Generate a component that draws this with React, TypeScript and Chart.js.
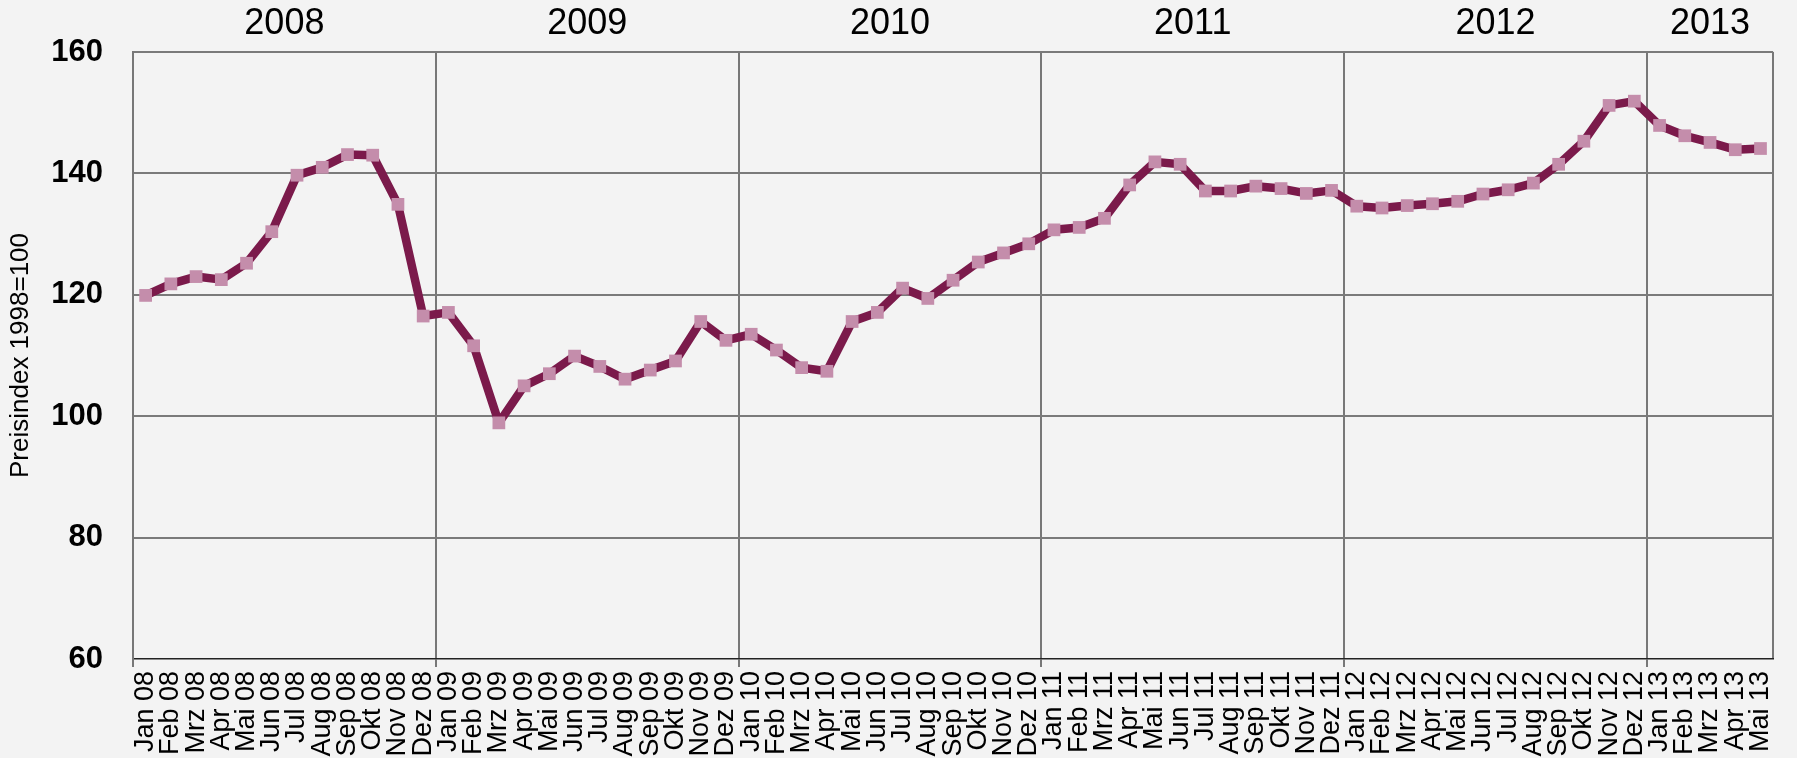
import React, { useEffect, useRef } from "react";
import { Chart, registerables } from "chart.js";

Chart.register(...registerables);

const monthLabels = [
  "Jan 08", "Feb 08", "Mrz 08", "Apr 08", "Mai 08", "Jun 08", "Jul 08", "Aug 08", "Sep 08", "Okt 08", "Nov 08", "Dez 08",
  "Jan 09", "Feb 09", "Mrz 09", "Apr 09", "Mai 09", "Jun 09", "Jul 09", "Aug 09", "Sep 09", "Okt 09", "Nov 09", "Dez 09",
  "Jan 10", "Feb 10", "Mrz 10", "Apr 10", "Mai 10", "Jun 10", "Jul 10", "Aug 10", "Sep 10", "Okt 10", "Nov 10", "Dez 10",
  "Jan 11", "Feb 11", "Mrz 11", "Apr 11", "Mai 11", "Jun 11", "Jul 11", "Aug 11", "Sep 11", "Okt 11", "Nov 11", "Dez 11",
  "Jan 12", "Feb 12", "Mrz 12", "Apr 12", "Mai 12", "Jun 12", "Jul 12", "Aug 12", "Sep 12", "Okt 12", "Nov 12", "Dez 12",
  "Jan 13", "Feb 13", "Mrz 13", "Apr 13", "Mai 13",
];

const priceIndex = [
  119.9, 121.8, 123.0, 122.5, 125.2, 130.4, 139.7, 141.0, 143.1, 143.0, 134.9, 116.5,
  117.1, 111.6, 98.9, 105.0, 107.0, 109.9, 108.2, 106.1, 107.6, 109.1, 115.6, 112.5,
  113.5, 110.9, 108.0, 107.4, 115.6, 117.1, 121.1, 119.4, 122.4, 125.4, 126.9, 128.4,
  130.7, 131.1, 132.6, 138.1, 141.9, 141.5, 137.1, 137.1, 137.9, 137.5, 136.7, 137.2,
  134.6, 134.3, 134.7, 135.0, 135.4, 136.6, 137.3, 138.4, 141.5, 145.3, 151.2, 151.9,
  147.9, 146.2, 145.1, 143.9, 144.1,
];

const yearLabels = ["2008", "2009", "2010", "2011", "2012", "2013"];

const yTitle = "Preisindex 1998=100";
const yMin = 60;
const yMax = 160;
const yStep = 20;

const FONT = "'Liberation Sans', Arial, sans-serif";

const bgPlugin = {
  id: "bgFill",
  beforeDraw(chart: any) {
    const ctx = chart.ctx;
    ctx.save();
    ctx.fillStyle = "#f3f3f3";
    ctx.fillRect(0, 0, chart.width, chart.height);
    ctx.restore();
  },
};

const yearPlugin = {
  id: "yearLabels",
  afterDraw(chart: any) {
    const ctx = chart.ctx;
    const xs = chart.scales.x;
    const half = (xs.getPixelForValue(1) - xs.getPixelForValue(0)) / 2;
    ctx.save();
    ctx.fillStyle = "#000";
    ctx.font = `36px ${FONT}`;
    ctx.textAlign = "center";
    ctx.textBaseline = "middle";
    yearLabels.forEach((yr) => {
      const suffix = yr.slice(2);
      const idx = monthLabels
        .map((l, i) => (l.endsWith(suffix) ? i : -1))
        .filter((i) => i >= 0);
      if (!idx.length) return;
      const x0 = xs.getPixelForValue(idx[0]) - half;
      const x1 = xs.getPixelForValue(idx[idx.length - 1]) + half;
      ctx.fillText(yr, (x0 + x1) / 2, 24);
    });
    ctx.restore();
  },
};

export default function App() {
  const ref = useRef<HTMLCanvasElement | null>(null);

  useEffect(() => {
    document.body.style.margin = "0";
    document.body.style.background = "#f3f3f3";
    const canvas = ref.current;
    if (!canvas) return;
    const chart = new Chart(canvas, {
      type: "line",
      data: {
        labels: monthLabels,
        datasets: [
          {
            data: priceIndex,
            borderColor: "#7b1a4b",
            borderWidth: 8.5,
            borderJoinStyle: "round",
            tension: 0,
            pointStyle: "rect",
            pointRadius: 9,
            pointHoverRadius: 9,
            pointBackgroundColor: "#c48dab",
            pointBorderWidth: 0,
            pointBorderColor: "#c48dab",
          },
        ],
      },
      options: {
        animation: false,
        responsive: false,
        devicePixelRatio: 1,
        layout: { padding: { top: 52, right: 13, bottom: 0, left: 0 } },
        plugins: {
          legend: { display: false },
          tooltip: { enabled: false },
        },
        scales: {
          x: {
            type: "category",
            offset: true,
            grid: {
              offset: true,
              lineWidth: 2,
              tickLength: 8,
              color: (c: any) =>
                c.type !== "tick" || c.index % 12 === 0 ? "#777777" : "rgba(0,0,0,0)",
              tickColor: (c: any) =>
                c.type === "tick" && c.index % 12 === 0 ? "#777777" : "rgba(0,0,0,0)",
            },
            border: { display: true, color: "#222222", width: 1.5 },
            ticks: {
              autoSkip: false,
              minRotation: 90,
              maxRotation: 90,
              padding: 4,
              color: "#000",
              font: { family: FONT, size: 27 },
            },
            afterFit: (s: any) => {
              s.height = 99;
            },
          },
          y: {
            min: yMin,
            max: yMax,
            ticks: {
              stepSize: yStep,
              padding: 30,
              color: "#000",
              font: { family: FONT, size: 31, weight: "bold" },
            },
            grid: {
              lineWidth: 2,
              drawTicks: false,
              color: (c: any) =>
                c.tick && c.tick.value === yMin ? "rgba(0,0,0,0)" : "#7a7a7a",
            },
            border: { display: true, color: "#777777", width: 2 },
            title: {
              display: true,
              text: yTitle,
              color: "#000",
              font: { family: FONT, size: 26 },
              padding: { top: 5, bottom: 0 },
            },
            afterFit: (s: any) => {
              s.width = 133;
            },
          },
        },
      },
      plugins: [bgPlugin, yearPlugin],
    });
    return () => chart.destroy();
  }, []);

  return (
    <div style={{ width: 1797, height: 758, background: "#f3f3f3" }}>
      <canvas ref={ref} width={1797} height={758} style={{ display: "block" }} />
    </div>
  );
}
